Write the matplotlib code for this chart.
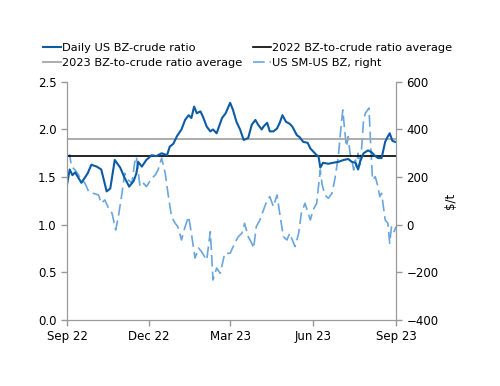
import datetime as dt
import matplotlib
matplotlib.use("Agg")
import matplotlib.pyplot as plt
import matplotlib.dates as mdates

# day offsets from 1 Sep 2022 and values
ratio_days = [0, 3, 6, 9, 16, 23, 27, 33, 38, 44, 48, 53, 59, 64, 69, 74, 77, 79, 83, 88,
              94, 99, 105, 111, 114, 118, 122, 127, 131, 135, 138, 141, 144, 148, 151, 155,
              159, 162, 166, 172, 176, 181, 184, 188, 192, 196, 201, 205, 209, 212, 216, 218,
              222, 225, 229, 233, 236, 239, 243, 247, 250, 255, 258, 262, 267, 270, 273, 277,
              279, 281, 284, 290, 295, 301, 307, 312, 316, 320, 323, 325, 329, 334, 338, 342,
              345, 349, 353, 355, 358, 361, 364]
ratio = [1.42, 1.58, 1.52, 1.55, 1.44, 1.54, 1.63, 1.61, 1.58, 1.35, 1.38, 1.68, 1.60, 1.49,
         1.40, 1.46, 1.54, 1.66, 1.61, 1.68, 1.73, 1.72, 1.75, 1.73, 1.82, 1.85, 1.93, 2.00,
         2.10, 2.15, 2.12, 2.24, 2.17, 2.19, 2.13, 2.03, 1.98, 2.00, 1.96, 2.12, 2.17, 2.28,
         2.21, 2.08, 2.00, 1.89, 1.91, 2.05, 2.10, 2.05, 2.00, 2.03, 2.07, 1.98, 1.98, 2.01,
         2.07, 2.15, 2.08, 2.06, 2.03, 1.94, 1.92, 1.87, 1.86, 1.80, 1.77, 1.73, 1.72, 1.60,
         1.65, 1.64, 1.65, 1.66, 1.68, 1.69, 1.66, 1.65, 1.58, 1.66, 1.75, 1.78, 1.76, 1.72,
         1.70, 1.70, 1.87, 1.91, 1.96, 1.88, 1.87]

spread_days = [0, 3, 5, 9, 14, 20, 24, 29, 35, 38, 42, 46, 50, 54, 57, 61, 64, 68, 72, 75,
               77, 81, 85, 88, 94, 98, 101, 105, 109, 112, 116, 120, 123, 127, 131, 135, 138,
               142, 146, 149, 155, 159, 162, 166, 170, 175, 181, 186, 190, 194, 197, 201, 205,
               207, 210, 214, 218, 222, 225, 229, 233, 236, 240, 244, 247, 253, 257, 260, 264,
               270, 273, 277, 279, 281, 283, 286, 290, 294, 297, 301, 304, 306, 308, 310, 312,
               314, 316, 318, 320, 321, 323, 325, 327, 329, 331, 335, 337, 339, 342, 345, 347,
               349, 353, 356, 358, 360, 363, 365]
spread = [286, 293, 244, 230, 202, 174, 139, 132, 125, 90, 104, 70, 48, -22, 34, 132, 216,
          188, 174, 259, 286, 160, 174, 160, 195, 209, 230, 280, 216, 132, 34, 6, -8, -64, -8,
          34, -36, -140, -98, -112, -148, -29, -232, -182, -204, -120, -120, -78, -50, -36, 6,
          -50, -78, -99, -8, 20, 62, 104, 118, 76, 125, 48, -50, -64, -36, -92, -36, 48, 90,
          20, 62, 90, 160, 230, 170, 125, 111, 132, 188, 286, 412, 482, 398, 328, 370, 300,
          272, 230, 272, 244, 300, 250, 328, 440, 468, 490, 328, 188, 202, 160, 118, 132, 20,
          6, -78, -8, -29, -8]

avg_2022 = 1.72
avg_2023 = 1.90

start = dt.date(2022, 9, 1)
ratio_dates = [start + dt.timedelta(days=d) for d in ratio_days]
spread_dates = [start + dt.timedelta(days=d) for d in spread_days]

plt.rcParams['font.family'] = ['DejaVu Sans']
plt.rcParams['font.size'] = 8

fig = plt.figure(figsize=(5, 3.86), dpi=100)
ax = fig.add_axes([0.134, 0.171, 0.658, 0.617])
ax2 = ax.twinx()

ax2.plot(spread_dates, spread, color='#6AA6DC', lw=1.2, dashes=(7, 3),
         label='US SM-US BZ, right')
ax.axhline(avg_2023, color='#A6A6A6', lw=1.3, label='2023 BZ-to-crude ratio average')
ax.axhline(avg_2022, color='black', lw=1.2, label='2022 BZ-to-crude ratio average')
ax.plot(ratio_dates, ratio, color='#0B5BA5', lw=1.5, label='Daily US BZ-crude ratio')
ax.set_zorder(ax2.get_zorder() + 1)
ax.patch.set_visible(False)

ax.set_xlim(dt.date(2022, 9, 1), dt.date(2023, 9, 1))
ax.set_ylim(0, 2.5)
ax2.set_ylim(-400, 600)
ax.set_yticks([0, 0.5, 1.0, 1.5, 2.0, 2.5])
ax.set_yticklabels(['0.0', '0.5', '1.0', '1.5', '2.0', '2.5'])
ax2.set_yticks([-400, -200, 0, 200, 400, 600])
ax2.set_ylabel(r'\$/t', labelpad=4, fontsize=8.5)

ticks = [dt.date(2022, 9, 1), dt.date(2022, 12, 1), dt.date(2023, 3, 1),
         dt.date(2023, 6, 1), dt.date(2023, 9, 1)]
ax.set_xticks(ticks)
ax.xaxis.set_major_formatter(mdates.DateFormatter('%b %y'))

for a in (ax, ax2):
    a.spines['top'].set_visible(False)
    for s in ('left', 'right', 'bottom'):
        a.spines[s].set_color('#999999')
    a.tick_params(colors='#999999', labelcolor='black', length=4, width=1)
    a.tick_params(labelsize=8.5)

h1, l1 = ax.get_legend_handles_labels()
h2, l2 = ax2.get_legend_handles_labels()
handles = [h1[2], h1[0], h1[1], h2[0]]
labels = [l1[2], l1[0], l1[1], l2[0]]
fig.legend(handles, labels, ncol=2, frameon=False, loc='upper left',
           bbox_to_anchor=(0.065, 0.915), handlelength=1.6, handletextpad=0.1,
           columnspacing=0.9, labelspacing=0.45, fontsize=8.2)

fig.savefig('out.png', dpi=100)
